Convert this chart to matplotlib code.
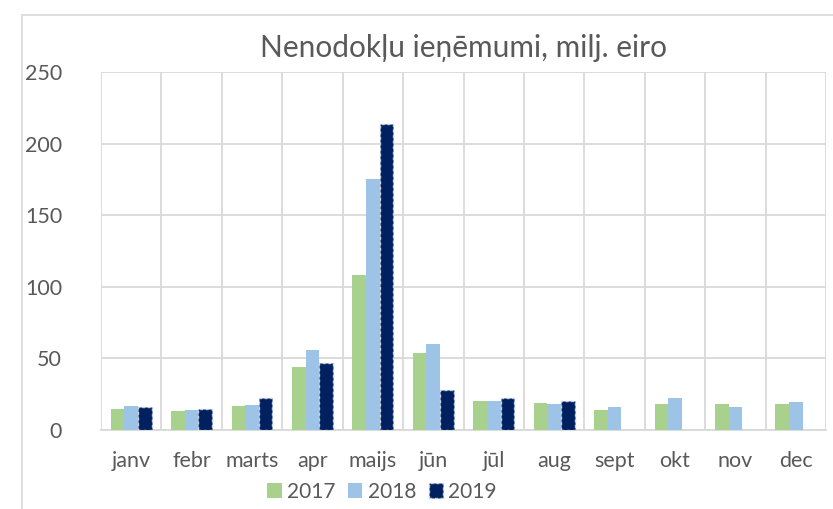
import numpy as np
import matplotlib.pyplot as plt
from matplotlib.patches import Rectangle

plt.rcParams['font.family'] = ['Lato', 'DejaVu Sans']

# data
months = ['janv', 'febr', 'marts', 'apr', 'maijs', 'jūn', 'jūl', 'aug', 'sept', 'okt', 'nov', 'dec']
y2017 = [15, 13.5, 17, 44, 108, 54, 20, 19, 14, 18, 18.5, 18]
y2018 = [17, 14, 17.5, 56, 175, 60, 20, 18, 16, 22, 16, 19.5]
y2019 = [16, 14.5, 22, 47, 214, 28, 22, 20, np.nan, np.nan, np.nan, np.nan]

grey = '#595959'
grid_col = '#D9D9D9'

fig = plt.figure(figsize=(8.33, 5.09), dpi=100)
# chart frame
fig.patches.append(Rectangle((22 / 833, -0.1), 1.0, 1.1 - 15 / 509, transform=fig.transFigure,
                             fill=False, edgecolor=grid_col, linewidth=1.2))
ax = fig.add_axes([101 / 833, 79 / 509, 725 / 833, 358 / 509])

x = np.arange(len(months))
w = 0.225
ax.bar(x - w, y2017, w, color='#A9D18E', label='2017', zorder=3)
ax.bar(x, y2018, w, color='#9DC3E6', label='2018', zorder=3)
ax.bar(x + w, y2019, w, color='#002060', label='2019', zorder=3,
       edgecolor='#C9D3E6', linewidth=1.0, linestyle=(0, (2, 2)))

ax.set_xlim(-0.5, len(months) - 0.5)
ax.set_ylim(0, 250)
ax.set_yticks(range(0, 251, 50))
ax.set_xticks(x)
ax.set_xticklabels(months)
ax.set_xticks(np.arange(-0.5, len(months)), minor=True)
ax.grid(axis='y', color=grid_col, linewidth=1.3, zorder=0)
ax.grid(axis='x', which='minor', color=grid_col, linewidth=1.3, zorder=0)
ax.tick_params(axis='both', which='both', length=0, labelsize=15.5, colors=grey)
ax.tick_params(axis='x', pad=15)
ax.tick_params(axis='y', pad=28)
for s in ['top', 'right', 'left']:
    ax.spines[s].set_visible(False)
ax.spines['bottom'].set_color(grid_col)
ax.spines['bottom'].set_linewidth(1.3)

ax.set_title('Nenodokļu ieņēmumi, milj. eiro', fontsize=21.5, color=grey, pad=11)

leg = fig.legend(loc='center', bbox_to_anchor=(382 / 833, 1 - 492 / 509), ncol=3, frameon=False,
                 fontsize=15, handlelength=0.7, handleheight=0.7, handletextpad=0.25,
                 columnspacing=0.6, labelcolor=grey)

fig.savefig('out.png', dpi=100)
